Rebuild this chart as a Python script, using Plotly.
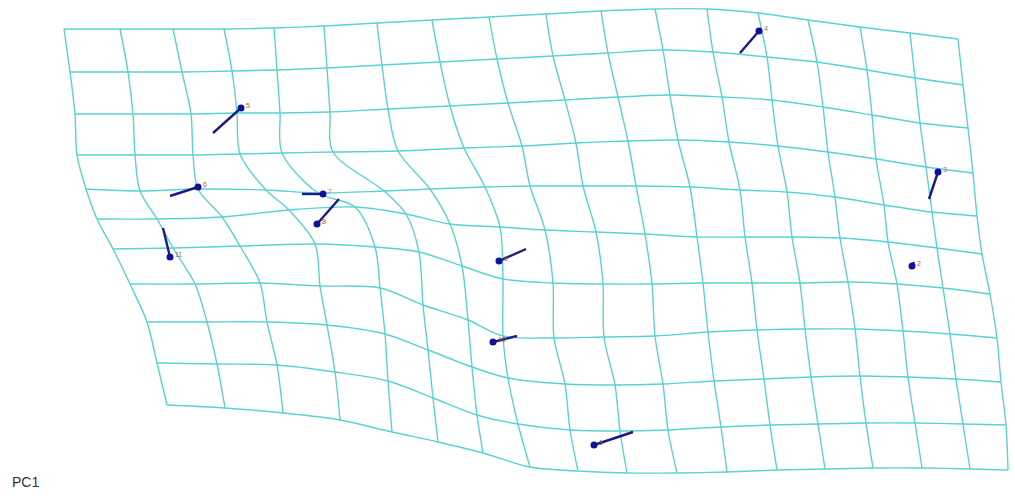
import plotly.graph_objects as go

# Deformation grid nodes (rows top -> bottom, columns left -> right), screen units
grid_x = [
    [64, 120, 173, 224, 274, 324, 377, 432, 489, 546, 601, 655, 707, 758, 808, 860, 910, 958],
    [70, 128, 182, 232, 277, 327, 382, 440, 497, 553, 608, 663, 713, 767, 817, 867, 915, 963],
    [75, 133, 191, 237, 280, 330, 388, 450, 508, 565, 618, 670, 722, 772, 823, 872, 920, 968],
    [77, 135, 193, 240, 282, 333, 398, 464, 522, 576, 628, 678, 729, 778, 828, 876, 926, 973],
    [86, 140, 198, 266, 318, 384, 430, 485, 530, 583, 636, 690, 740, 787, 835, 884, 932, 977],
    [97, 157, 222, 289, 355, 406, 450, 500, 545, 596, 645, 697, 745, 792, 840, 888, 937, 982],
    [113, 173, 240, 315, 375, 419, 462, 503, 553, 603, 652, 703, 752, 800, 848, 897, 943, 990],
    [130, 195, 260, 320, 380, 423, 468, 503, 554, 604, 655, 708, 757, 805, 855, 903, 950, 997],
    [147, 207, 267, 327, 385, 428, 472, 508, 565, 615, 663, 714, 764, 811, 860, 908, 956, 1001],
    [157, 217, 277, 335, 388, 433, 477, 518, 570, 620, 668, 721, 770, 818, 866, 915, 963, 1006],
    [167, 225, 283, 340, 392, 438, 483, 530, 578, 627, 677, 727, 777, 825, 873, 922, 970, 1008],
]
grid_y = [
    [29, 29, 29, 29, 28, 26, 23, 20, 17, 14, 11, 9, 9, 13, 20, 27, 33, 39],
    [72, 72, 72, 71, 70, 68, 65, 62, 59, 56, 53, 50, 52, 57, 62, 70, 78, 85],
    [114, 114, 114, 113, 113, 112, 109, 106, 103, 100, 97, 95, 97, 100, 107, 115, 123, 128],
    [155, 155, 155, 154, 153, 152, 151, 148, 146, 143, 141, 140, 142, 146, 152, 159, 167, 173],
    [189, 191, 189, 190, 193, 191, 189, 187, 186, 186, 186, 187, 190, 192, 197, 205, 212, 216],
    [219, 219, 217, 210, 207, 214, 224, 227, 230, 232, 234, 237, 237, 237, 238, 242, 248, 254],
    [249, 248, 246, 244, 247, 252, 266, 279, 283, 284, 284, 283, 283, 283, 282, 284, 288, 294],
    [284, 284, 283, 286, 288, 305, 320, 336, 338, 337, 336, 332, 330, 329, 329, 331, 334, 338],
    [322, 322, 322, 325, 334, 350, 367, 378, 384, 385, 384, 381, 379, 377, 376, 377, 379, 382],
    [363, 364, 365, 372, 381, 398, 415, 424, 430, 431, 430, 427, 425, 424, 423, 423, 424, 425],
    [405, 408, 413, 420, 432, 442, 453, 467, 471, 473, 473, 472, 470, 469, 468, 468, 469, 470],
]

# Landmarks: target position (dot) and the free end of each displacement stick
lm_ids = ["1", "2", "3", "4", "5", "6", "7", "8", "9", "10", "11"]
lm_x = [594, 912, 938, 759, 241, 198, 323, 317, 499, 493, 170]
lm_y = [445, 266, 172, 31, 108, 187, 194, 224, 261, 342, 257]
stick_x = [633, 914, 929, 740, 213, 170, 302, 339, 526, 517, 163]
stick_y = [432, 262, 199, 53, 133, 196, 194, 199, 249, 336, 228]
label_colors = ["#b0524a", "#b0524a", "#b06a3a", "#7a7a7a", "#b0524a", "#b0524a",
                "#c07a30", "#b0524a", "#b0524a", "#b0524a", "#7a7a7a"]

GRID_COLOR = "#5ad2d2"
STICK_COLOR = "#1b1b80"
DOT_COLOR = "#10109a"

fig = go.Figure()

n_rows = len(grid_x)
n_cols = len(grid_x[0])

# horizontal grid lines
for r in range(n_rows):
    fig.add_trace(go.Scatter(
        x=grid_x[r], y=grid_y[r], mode="lines",
        line=dict(color=GRID_COLOR, width=1.4, shape="spline", smoothing=0.9),
        hoverinfo="skip", showlegend=False))

# vertical grid lines
for c in range(n_cols):
    fig.add_trace(go.Scatter(
        x=[grid_x[r][c] for r in range(n_rows)],
        y=[grid_y[r][c] for r in range(n_rows)], mode="lines",
        line=dict(color=GRID_COLOR, width=1.4, shape="spline", smoothing=0.9),
        hoverinfo="skip", showlegend=False))

# displacement sticks
for i in range(len(lm_ids)):
    fig.add_trace(go.Scatter(
        x=[lm_x[i], stick_x[i]], y=[lm_y[i], stick_y[i]], mode="lines",
        line=dict(color=STICK_COLOR, width=2.4),
        hoverinfo="skip", showlegend=False))

# landmark dots
fig.add_trace(go.Scatter(
    x=lm_x, y=lm_y, mode="markers",
    marker=dict(color=DOT_COLOR, size=7),
    hoverinfo="skip", showlegend=False))

# landmark numbers, just right of and above each dot
for i, lid in enumerate(lm_ids):
    fig.add_annotation(
        x=lm_x[i], y=lm_y[i], xref="x", yref="y", text=lid, showarrow=False,
        xanchor="left", yanchor="middle", xshift=3, yshift=3,
        font=dict(size=7, color=label_colors[i], family="Liberation Sans, Arial"))

fig.add_annotation(
    x=10, y=482, xref="x", yref="y", text="PC1", showarrow=False,
    xanchor="left", yanchor="middle",
    font=dict(size=14, color="#333333", family="Liberation Sans, Arial"))

fig.update_xaxes(range=[0, 1015], visible=False, fixedrange=True)
fig.update_yaxes(range=[496, 0], visible=False, fixedrange=True)
fig.update_layout(
    width=1015, height=496,
    margin=dict(l=0, r=0, t=0, b=0),
    paper_bgcolor="white", plot_bgcolor="white",
)

fig.write_html("out.html")
